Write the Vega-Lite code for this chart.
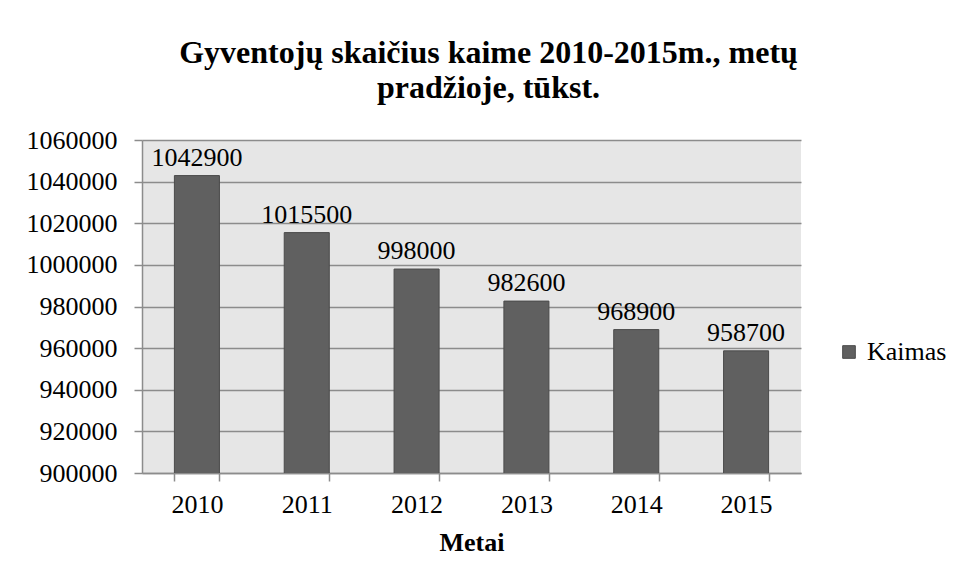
{
  "$schema": "https://vega.github.io/schema/vega-lite/v6.json",
  "width": 659,
  "height": 333,
  "autosize": {"type": "none"},
  "padding": {"left": 142, "top": 140, "right": 157, "bottom": 110},
  "background": "white",
  "title": {
    "text": ["Gyventojų skaičius kaime 2010-2015m., metų", "pradžioje, tūkst."],
    "font": "Liberation Serif",
    "fontSize": 32,
    "fontWeight": "bold",
    "color": "black",
    "anchor": "middle",
    "frame": "group",
    "dx": 17,
    "offset": 22,
    "lineHeight": 35
  },
  "config": {
    "view": {"stroke": null, "fill": "#e6e6e6"},
    "font": "Liberation Serif",
    "text": {"font": "Liberation Serif"},
    "legend": {"labelFont": "Liberation Serif"},
    "title": {"font": "Liberation Serif"}
  },
  "data": {
    "values": [
      {"Metai": "2010", "value": 1042900},
      {"Metai": "2011", "value": 1015500},
      {"Metai": "2012", "value": 998000},
      {"Metai": "2013", "value": 982600},
      {"Metai": "2014", "value": 968900},
      {"Metai": "2015", "value": 958700}
    ]
  },
  "encoding": {
    "x": {
      "field": "Metai",
      "type": "nominal",
      "scale": {"paddingInner": 0.59, "paddingOuter": 0.295},
      "axis": {
        "title": "Metai",
        "titleFont": "Liberation Serif",
        "titleFontSize": 26,
        "titleFontWeight": "bold",
        "titleColor": "black",
        "titlePadding": 12,
        "labelFont": "Liberation Serif",
        "labelFontSize": 26,
        "labelColor": "black",
        "labelAngle": 0,
        "labelPadding": 10,
        "tickBand": "extent",
        "tickSize": 8,
        "tickColor": "#8c8c8c",
        "domainColor": "#8c8c8c",
        "tickWidth": 1.5,
        "domainWidth": 1.5,
        "grid": false
      }
    },
    "y": {
      "field": "value",
      "type": "quantitative",
      "scale": {"domain": [900000, 1060000], "zero": false, "nice": false},
      "axis": {
        "title": null,
        "values": [900000, 920000, 940000, 960000, 980000, 1000000, 1020000, 1040000, 1060000],
        "format": "d",
        "labelFont": "Liberation Serif",
        "labelFontSize": 26,
        "labelColor": "black",
        "labelPadding": 17,
        "tickSize": 8,
        "tickColor": "#8c8c8c",
        "domainColor": "#8c8c8c",
        "tickWidth": 1.5,
        "domainWidth": 1.5,
        "grid": true,
        "gridColor": "#8c8c8c",
        "gridWidth": 1.5
      }
    }
  },
  "layer": [
    {
      "mark": {"type": "bar", "stroke": "#4a4a4a", "strokeWidth": 1, "clip": true},
      "encoding": {
        "color": {
          "datum": "Kaimas",
          "type": "nominal",
          "scale": {"range": ["#606060"]},
          "legend": {
            "title": null,
            "orient": "none",
            "legendX": 694,
            "legendY": 199,
            "padding": 0,
            "symbolType": "square",
            "symbolSize": 160,
            "symbolStrokeColor": "#4a4a4a",
            "symbolStrokeWidth": 1,
            "labelFont": "Liberation Serif",
            "labelFontSize": 26,
            "labelColor": "black",
            "labelOffset": 5
          }
        }
      }
    },
    {
      "mark": {
        "type": "text",
        "baseline": "alphabetic",
        "dy": -10,
        "font": "Liberation Serif",
        "fontSize": 26,
        "color": "black"
      },
      "encoding": {
        "text": {"field": "value", "type": "quantitative", "format": "d"}
      }
    }
  ]
}
